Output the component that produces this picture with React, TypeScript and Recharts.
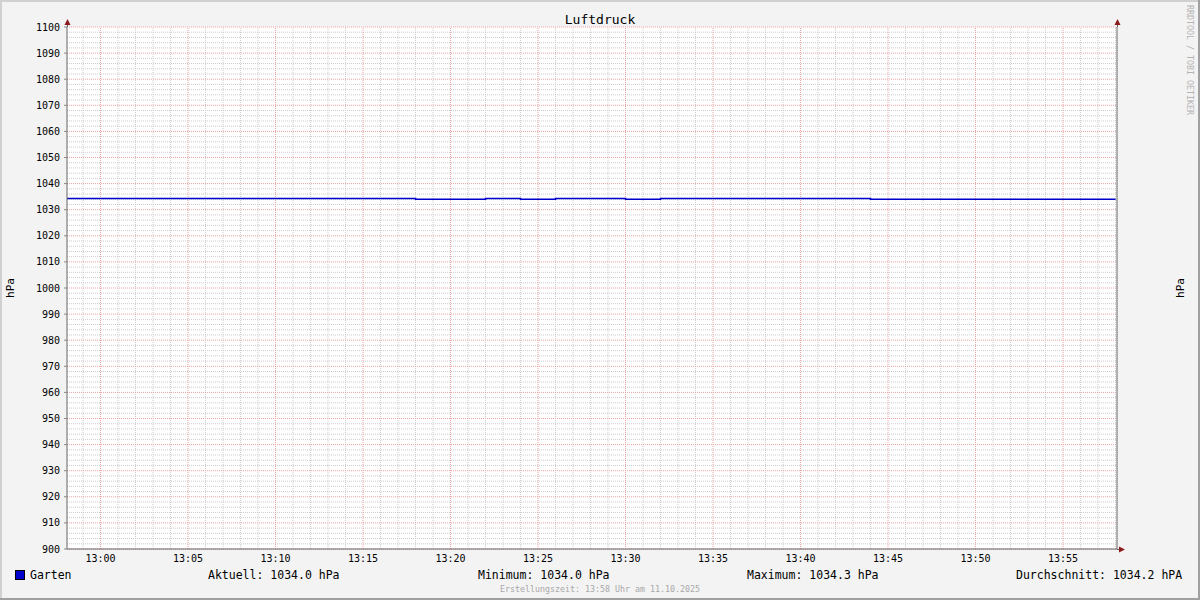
import React from 'react';
import { LineChart, Line, XAxis, YAxis, CartesianGrid, ReferenceLine } from 'recharts';

// Messwerte Garten, alle 2 Minuten
const times = [
  '12:58', '13:00', '13:02', '13:04', '13:06', '13:08', '13:10', '13:12', '13:14', '13:16',
  '13:18', '13:20', '13:22', '13:24', '13:26', '13:28', '13:30', '13:32', '13:34', '13:36',
  '13:38', '13:40', '13:42', '13:44', '13:46', '13:48', '13:50', '13:52', '13:54', '13:56', '13:58',
];
const pressure = [
  1034.3, 1034.3, 1034.3, 1034.3, 1034.3, 1034.3, 1034.3, 1034.3, 1034.3, 1034.3,
  1034.0, 1034.0, 1034.3, 1034.0, 1034.3, 1034.3, 1034.0, 1034.3, 1034.3, 1034.3,
  1034.3, 1034.3, 1034.3, 1034.0, 1034.0, 1034.0, 1034.0, 1034.0, 1034.0, 1034.0, 1034.0,
];
const rangeStart = '12:58:05';
const rangeEnd = '13:58:05';
const timeTicks = ['13:00', '13:05', '13:10', '13:15', '13:20', '13:25', '13:30', '13:35', '13:40', '13:45', '13:50', '13:55'];
const yMin = 900;
const yMax = 1100;

const MONO = '"DejaVu Sans Mono", monospace';
const LINE_COLOR = '#0000cc';
const MINOR = '#cccccc';
const MAJOR = '#eba3a3';

// minutes relative to 13:00
const toMin = (t: string) => {
  const [h, m, s = '0'] = t.split(':');
  return Number(h) * 60 + Number(m) + Number(s) / 60 - 780;
};
const fmtMin = (v: number) => {
  const total = Math.round(v) + 780;
  const h = Math.floor(total / 60);
  const m = total % 60;
  return `${h}:${m < 10 ? '0' + m : m}`;
};

const data = times.map((t, i) => ({ x: toMin(t), value: pressure[i] }));
const domainX = [toMin(rangeStart), toMin(rangeEnd)];

const majorX = timeTicks.map(toMin);
const minorX: number[] = [];
for (let m = Math.ceil(domainX[0]); m <= domainX[1]; m++) if (m % 5 !== 0) minorX.push(m);
const majorY: number[] = [];
for (let v = yMin; v <= yMax; v += 10) majorY.push(v);
const minorY: number[] = [];
for (let v = yMin; v <= yMax; v += 2) if (v % 10 !== 0) minorY.push(v);

const current = pressure[pressure.length - 1];
const minimum = Math.min(...pressure);
const maximum = Math.max(...pressure);
const average = pressure.reduce((s, v) => s + v, 0) / pressure.length;

const tickStyle = { fontSize: 10, fill: '#000', fontFamily: MONO };
const ARROW = '#8b1a1a';

export default function App() {
  return (
    <div style={{ position: 'absolute', left: 0, top: 0, width: 1200, height: 600, background: '#f3f3f3' }}>
      <LineChart
        width={1200}
        height={600}
        data={data}
        margin={{ top: 27, right: 23, bottom: 31, left: 7 }}
      >
        <XAxis
          dataKey="x"
          type="number"
          domain={domainX}
          ticks={majorX}
          allowDataOverflow
          interval={0}
          tickFormatter={fmtMin}
          height={20}
          tickSize={4}
          tickMargin={2}
          tickLine={false}
          axisLine={{ stroke: '#666' }}
          tick={tickStyle}
        />
        <YAxis
          yAxisId="left"
          type="number"
          domain={[yMin, yMax]}
          ticks={majorY}
          interval={0}
          width={60}
          tickSize={3}
          tickMargin={4}
          axisLine={{ stroke: '#666' }}
          tickLine={{ stroke: '#888' }}
          tick={tickStyle}
        />
        <YAxis
          yAxisId="right"
          orientation="right"
          type="number"
          domain={[yMin, yMax]}
          ticks={majorY}
          interval={0}
          width={60}
          tickSize={3}
          tickMargin={5}
          axisLine={{ stroke: '#666' }}
          tickLine={{ stroke: '#c05050' }}
          tick={{ ...tickStyle, textAnchor: 'start' }}
        />
        <CartesianGrid yAxisId="left" fill="#fff" horizontal={false} vertical={false} />

        {minorY.map(v => (
          <ReferenceLine key={`my${v}`} yAxisId="left" y={v} stroke={MINOR} strokeDasharray="1 1" />
        ))}
        {minorX.map(v => (
          <ReferenceLine key={`mx${v}`} yAxisId="left" x={v} stroke={MINOR} strokeDasharray="1 1" />
        ))}
        {majorY.map(v => (
          <ReferenceLine key={`My${v}`} yAxisId="left" y={v} stroke={MAJOR} strokeDasharray="1 1" />
        ))}
        {majorX.map(v => (
          <ReferenceLine key={`Mx${v}`} yAxisId="left" x={v} stroke={MAJOR} strokeDasharray="1 1" />
        ))}

        <Line
          yAxisId="left"
          type="stepAfter"
          dataKey="value"
          stroke={LINE_COLOR}
          strokeWidth={1.6}
          dot={false}
          activeDot={false}
          isAnimationActive={false}
        />
      </LineChart>

      <svg width={1200} height={600} style={{ position: 'absolute', left: 0, top: 0, pointerEvents: 'none' }}>
        {/* frame */}
        <line x1={0} y1={1} x2={1200} y2={1} stroke="#d0d0d0" strokeWidth={2} />
        <line x1={1} y1={0} x2={1} y2={600} stroke="#d0d0d0" strokeWidth={2} />
        <line x1={0} y1={599} x2={1200} y2={599} stroke="#a0a0a0" strokeWidth={2} />
        <line x1={1199} y1={0} x2={1199} y2={600} stroke="#a0a0a0" strokeWidth={2} />

        {/* axis arrows */}
        <line x1={67.5} y1={22} x2={67.5} y2={27} stroke="#666" />
        <line x1={1117.5} y1={22} x2={1117.5} y2={27} stroke="#666" />
        <line x1={1117} y1={549.5} x2={1121} y2={549.5} stroke="#666" />
        <polygon points="64.5,25 70.5,25 67.5,19" fill={ARROW} />
        <polygon points="1114.5,25 1120.5,25 1117.5,19" fill={ARROW} />
        <polygon points="1119,546.5 1119,552.5 1125,549.5" fill={ARROW} />

        <text x={600} y={24} textAnchor="middle" fontFamily={MONO} fontSize={13} fill="#000">Luftdruck</text>

        <text transform="translate(14,288) rotate(-90)" textAnchor="middle" fontFamily={MONO} fontSize={11} fill="#000">hPa</text>
        <text transform="translate(1184,288) rotate(-90)" textAnchor="middle" fontFamily={MONO} fontSize={11} fill="#000">hPa</text>

        <text transform="translate(1187,5) rotate(90)" fontFamily={MONO} fontSize={8.3} fill="#b4b4b4">RRDTOOL / TOBI OETIKER</text>

        {/* legend */}
        <rect x={15.5} y={570.5} width={9} height={9} fill={LINE_COLOR} stroke="#000" />
        <g fontFamily={MONO} fontSize={11.5} fill="#000">
          <text x={30} y={579}>Garten</text>
          <text x={208} y={579}>{`Aktuell: ${current.toFixed(1)} hPa`}</text>
          <text x={478} y={579}>{`Minimum: ${minimum.toFixed(1)} hPa`}</text>
          <text x={747} y={579}>{`Maximum: ${maximum.toFixed(1)} hPa`}</text>
          <text x={1016} y={579}>{`Durchschnitt: ${average.toFixed(1)} hPA`}</text>
        </g>
        <text x={600} y={592} textAnchor="middle" fontFamily={MONO} fontSize={8.3} fill="#a8a8a8">
          Erstellungszeit: 13:58 Uhr am 11.10.2025
        </text>
      </svg>
    </div>
  );
}
